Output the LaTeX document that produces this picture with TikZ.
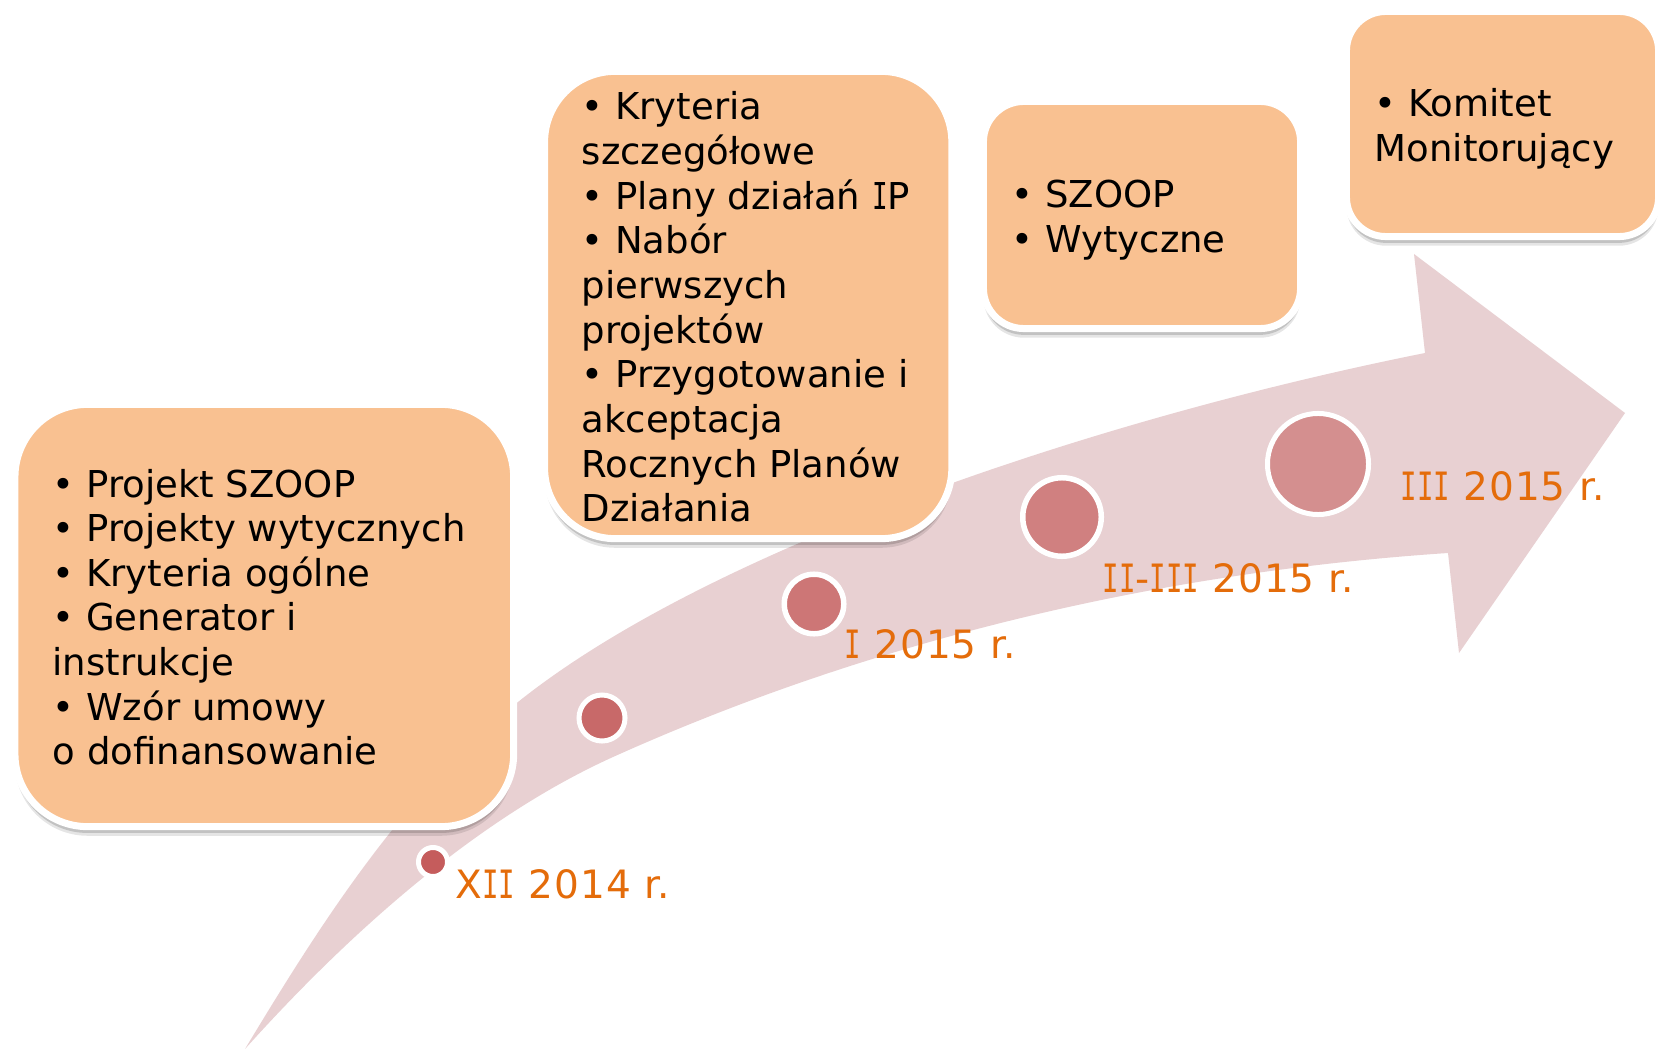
\documentclass[tikz,border=0pt]{standalone}
\usepackage{fontspec}
\setmainfont{DejaVu Sans}
\newfontfamily\labelfamily[LetterSpace=2.5]{DejaVu Sans}
\newfontfamily\monoIfont[FakeStretch=0.7]{DejaVu Sans Mono}
\newcommand{\sI}{{\monoIfont I}}
\usetikzlibrary{shadows}
\definecolor{arrowc}{RGB}{232,208,210}
\definecolor{boxor}{RGB}{249,193,145}
\definecolor{labor}{RGB}{228,108,10}
\definecolor{dotA}{RGB}{197,92,92}
\definecolor{dotB}{RGB}{200,105,105}
\definecolor{dotC}{RGB}{205,118,118}
\definecolor{dotD}{RGB}{208,128,128}
\definecolor{dotE}{RGB}{212,143,143}
\newcommand{\boxfont}{\fontsize{10.53}{12.7}\selectfont}
\newcommand{\labfont}{\labelfamily\fontsize{11.1}{13}\selectfont}
\begin{document}
\begin{tikzpicture}[x=0.01cm,y=-0.01cm,
  card/.style={rectangle, draw=white, line width=0.07cm, fill=boxor, inner sep=0pt,
    drop shadow={shadow xshift=0pt, shadow yshift=-2.6pt, opacity=0.10, fill=black},
    drop shadow={shadow xshift=0pt, shadow yshift=-1.8pt, opacity=0.15, fill=black}},
  cardtext/.style={anchor=base west, inner sep=0pt, text=black},
  dot/.style={circle, draw=white, inner sep=0pt},
  datelabel/.style={anchor=base west, inner sep=0pt, text=labor, font=\labfont}
]
\useasboundingbox (0,0) rectangle (1658,1049);
\fill[white] (0,0) rectangle (1658,1049);
\clip (0,0) rectangle (1658,1049);

% curved arrow
\fill[arrowc] (245,1049) .. controls (321,923) and (403,794) .. (518,702)
  .. controls (713,546) and (1107,416.5) .. (1425,353)
  -- (1414,254) -- (1625,413) -- (1459,653) -- (1448,553)
  .. controls (1162,572) and (875,639) .. (613,757)
  .. controls (478,818) and (350,932) .. (245,1049) -- cycle;

% milestones
\node[dot, fill=dotA, line width=0.05cm, minimum size=0.29cm] (d1) at (433,862) {};
\node[dot, fill=dotB, line width=0.05cm, minimum size=0.46cm] (d2) at (602,718) {};
\node[dot, fill=dotC, line width=0.055cm, minimum size=0.595cm] (d3) at (814,604) {};
\node[dot, fill=dotD, line width=0.055cm, minimum size=0.785cm] (d4) at (1062,517) {};
\node[dot, fill=dotE, line width=0.05cm, minimum size=1.01cm] (d5) at (1318,464) {};

% boxes
\node[card, minimum width=4.984cm, minimum height=4.22cm, rounded corners=0.725cm] (b1) at (264.3,615.5) {};
\node[card, minimum width=4.07cm, minimum height=4.67cm, rounded corners=0.705cm] (b2) at (748.2,305) {};
\node[card, minimum width=3.17cm, minimum height=2.27cm, rounded corners=0.405cm] (b3) at (1142,215) {};
\node[card, minimum width=3.12cm, minimum height=2.25cm, rounded corners=0.395cm] (b4) at (1502.5,124) {};

\node[cardtext] (t1) at (52,497) {\parbox[t]{5cm}{\boxfont
• Projekt SZOOP\\
• Projekty wytycznych\\
• Kryteria ogólne\\
• Generator i\\
instrukcje\\
• Wzór umowy\\
o dofinansowanie}};

\node[cardtext] (t2) at (581,120) {\parbox[t]{4.5cm}{\boxfont
• Kryteria\\
szczegółowe\\
• Plany działań \sI P\\
• Nabór\\
pierwszych\\
projektów\\
• Przygotowanie i\\
akceptacja\\
Rocznych Planów\\
Działania}};

\node[cardtext] (t3) at (1011,208) {\parbox[t]{3cm}{\boxfont
• SZOOP\\
• Wytyczne}};

\node[cardtext] (t4) at (1374,117) {\parbox[t]{3cm}{\boxfont
• Komitet\\
Monitorujący}};

% date labels
\node[datelabel] (l1) at (455,898) {X\sI\sI\ 2014 r.};
\node[datelabel] (l2) at (844,658) {\sI\ 2015 r.};
\node[datelabel] (l3) at (1102,592) {\sI\sI-\sI\sI\sI\ 2015 r.};
\node[datelabel] (l4) at (1400,500) {\sI\sI\sI\ 2015 r.};
\end{tikzpicture}
\end{document}
